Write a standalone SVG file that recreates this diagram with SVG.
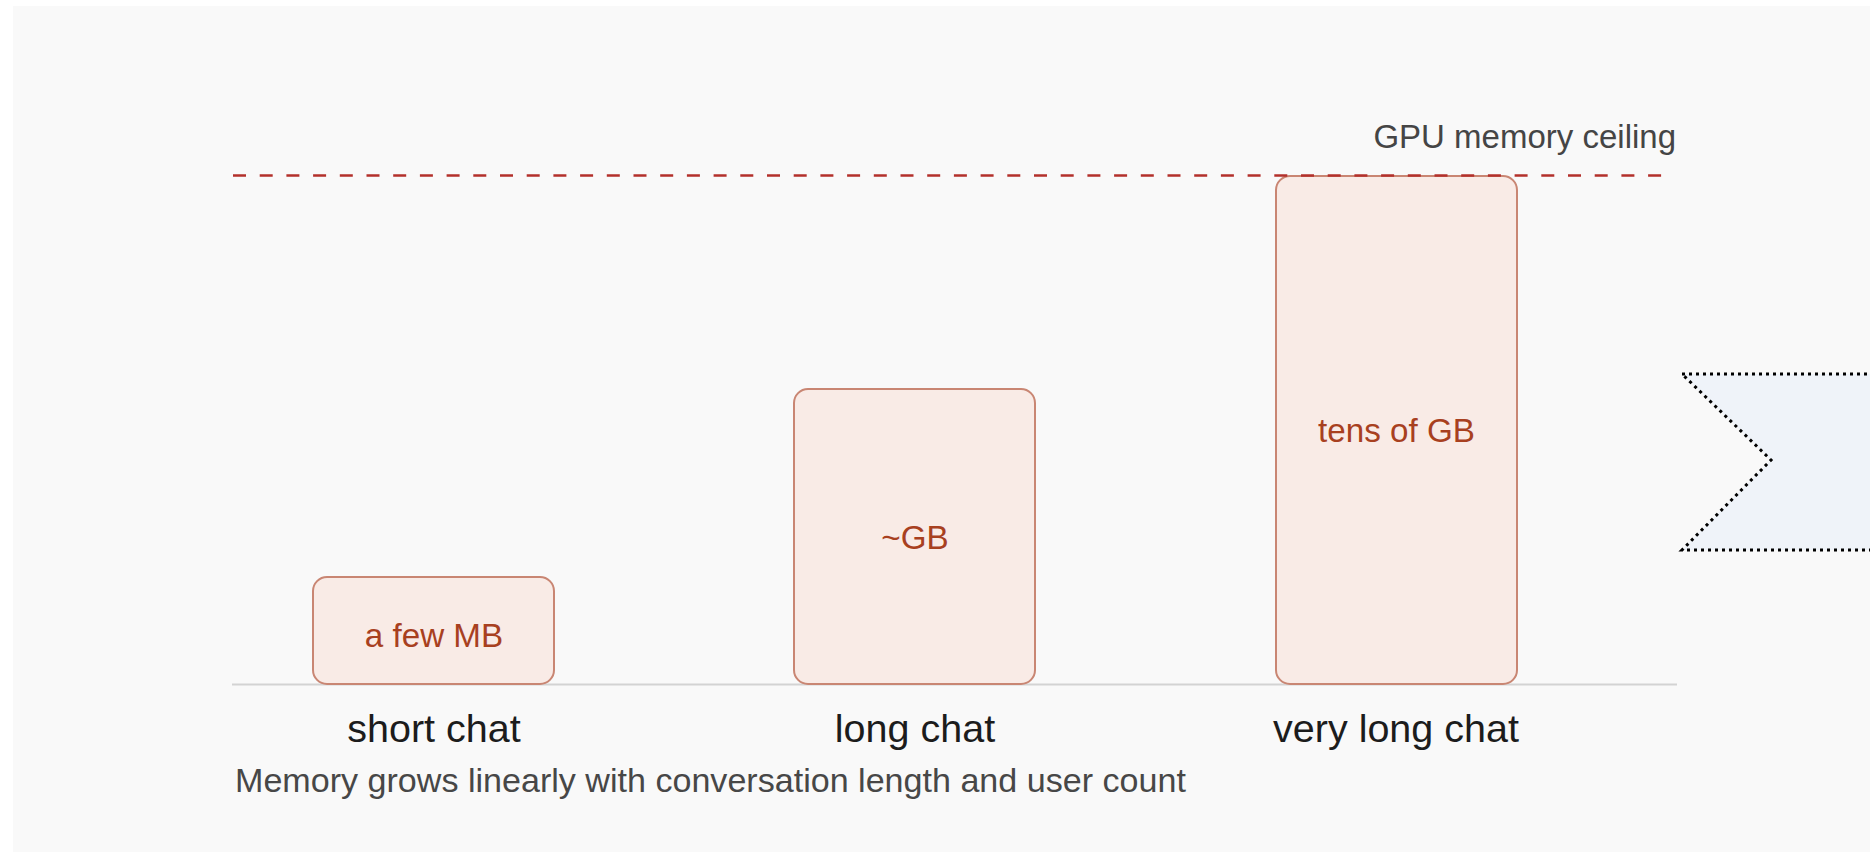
<svg xmlns="http://www.w3.org/2000/svg" width="1870" height="852" viewBox="0 0 1870 852">
  <style>
    .bar { fill: #f9ebe6; stroke: #c98673; stroke-width: 2; }
    .barlabel { font-family: "Liberation Sans", Arial, sans-serif; font-size: 33.2px; fill: #a8401f; text-anchor: middle; }
    .axislabel { font-family: "Liberation Sans", Arial, sans-serif; font-size: 39.5px; fill: #1c1c1c; text-anchor: middle; }
    .note { font-family: "Liberation Sans", Arial, sans-serif; font-size: 34.1px; fill: #474747; }
  </style>
  <rect x="0" y="0" width="1870" height="852" fill="#ffffff"/>
  <rect x="13" y="6" width="1857" height="846" fill="#f9f9f9"/>

  <g id="baseline">
    <line x1="232" y1="684.5" x2="1677" y2="684.5" stroke="#d3d3d3" stroke-width="2"/>
  </g>

  <g id="bar-short">
    <rect class="bar" x="313" y="577" width="241" height="107" rx="14"/>
    <text class="barlabel" x="434" y="647">a few MB</text>
  </g>
  <g id="bar-long">
    <rect class="bar" x="794" y="389" width="241" height="295" rx="14"/>
    <text class="barlabel" x="915" y="549">~GB</text>
  </g>
  <g id="bar-verylong">
    <rect class="bar" x="1276" y="176" width="241" height="508" rx="14"/>
    <text class="barlabel" x="1396.5" y="442">tens of GB</text>
  </g>

  <g id="ceiling">
    <line x1="233" y1="175.5" x2="1663" y2="175.5" stroke="#b3302b" stroke-width="2.6" stroke-dasharray="13 13.7"/>
    <text x="1676" y="148" font-family="Liberation Sans, Arial, sans-serif" font-size="33" fill="#454545" text-anchor="end">GPU memory ceiling</text>
  </g>

  <g id="labels">
    <text class="axislabel" x="434" y="742">short chat</text>
    <text class="axislabel" x="915" y="742">long chat</text>
    <text class="axislabel" x="1396" y="742">very long chat</text>
    <text class="note" x="235" y="792">Memory grows linearly with conversation length and user count</text>
  </g>

  <g id="chevron">
    <polygon points="1682,374 1885,374 1885,550 1682,550 1771,460" fill="#eff3f9" stroke="#000000" stroke-width="3" stroke-dasharray="3 4"/>
  </g>
</svg>
